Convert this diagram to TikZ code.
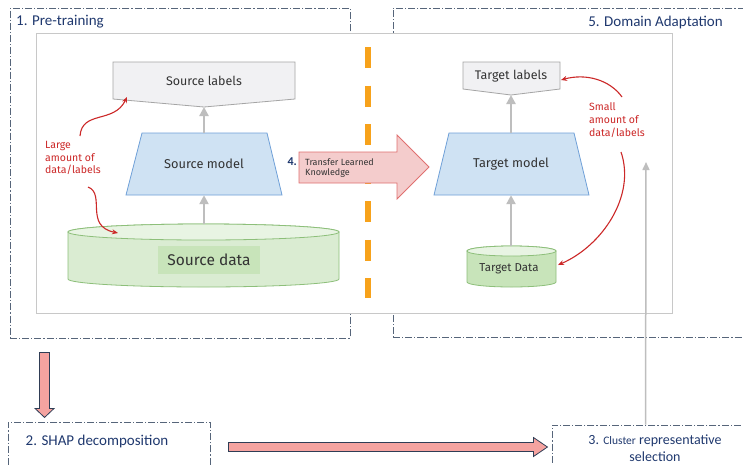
\documentclass[tikz,border=0pt]{standalone}
\usepackage{fontspec}
\newfontfamily\diagfont{Fira Sans}
\newfontfamily\stagefont{Carlito}
\usetikzlibrary{arrows.meta,positioning,calc}
\definecolor{boxline}{RGB}{86,101,122}
\definecolor{boxtext}{RGB}{31,56,110}
\definecolor{lblfill}{RGB}{241,241,243}
\definecolor{lbldraw}{RGB}{165,165,165}
\definecolor{modfill}{RGB}{207,226,243}
\definecolor{moddraw}{RGB}{111,160,216}
\definecolor{datfill}{RGB}{218,236,210}
\definecolor{dattop}{RGB}{232,244,227}
\definecolor{datdraw}{RGB}{141,191,122}
\definecolor{datinner}{RGB}{200,228,186}
\definecolor{notered}{RGB}{204,40,40}
\definecolor{tlfill}{RGB}{244,204,204}
\definecolor{tldraw}{RGB}{224,112,112}
\definecolor{sepor}{RGB}{247,162,27}
\definecolor{stepfill}{RGB}{245,163,160}
\definecolor{stepdraw}{RGB}{47,61,85}
\definecolor{flowgray}{RGB}{190,190,190}
\definecolor{innerframe}{RGB}{200,200,200}
\begin{document}
\begin{tikzpicture}[x=1pt,y=-1pt,
    every node/.style={font=\diagfont,text=black!80,inner sep=0pt},
    stagebox/.style={draw=boxline,line width=0.9pt,dash pattern=on 7pt off 2pt on 1.2pt off 2pt},
    stagelbl/.style={font=\stagefont\fontsize{15}{17}\selectfont,text=boxtext},
    lbltxt/.style={font=\diagfont\fontsize{12.5}{14}\selectfont},
    labshape/.style={draw=lbldraw,fill=lblfill,line width=0.8pt},
    modshape/.style={draw=moddraw,fill=modfill,line width=0.8pt},
    model/.style={minimum width=120pt,minimum height=62pt,font=\diagfont\fontsize{12.8}{14}\selectfont},
    flow/.style={draw=flowgray,line width=2.5pt,-{Triangle[length=9pt,width=9pt]}},
    note/.style={text=notered,align=left,font=\diagfont\fontsize{10.5}{12.8}\selectfont},
    notearr/.style={draw=notered,line width=1.1pt,-{Stealth[length=6pt,width=5pt]}},
    blockarr/.style={fill=stepfill,draw=stepdraw,line width=0.8pt}]
  \useasboundingbox (0,0) rectangle (743,464);
  \clip (0,0) rectangle (743,464);
  % Stage frames
  \node[stagebox,minimum width=340pt,minimum height=330pt] (pre) at (180,173) {};
  \node[stagebox,minimum width=359pt,minimum height=329pt] (adapt) at (572.5,172.5) {};
  \node[stagebox,minimum width=202pt,minimum height=48pt] (shap) at (109,446) {};
  \node[stagebox,minimum width=200pt,minimum height=45pt] (clus) at (652,447.5) {};
  \node[stagelbl,anchor=west] (prelbl) at (16,22) {1. Pre-training};
  \node[stagelbl,anchor=east] (adaptlbl) at (723,22) {5. Domain Adaptation};
  \node[stagelbl] (shaplbl) at (97,441) {2. SHAP decomposition};
  \node[stagelbl,align=center,font=\stagefont\fontsize{14}{16.5}\selectfont] (cluslbl) at (655,448)
    {3. {\fontsize{11.5}{14}\selectfont Cluster} representative\\selection};
  \draw[innerframe,line width=0.8pt,fill=white] (36,33) rectangle (672,313);
  % Separator and transfer
  \draw[sepor,line width=6pt,dash pattern=on 21pt off 17.5pt] (368,47) -- (368,298);
  \draw[tldraw,fill=tlfill,line width=0.8pt] (299,152) -- (397,152) -- (397,135) -- (429,167)
    -- (397,199) -- (397,183) -- (299,183) -- cycle;
  \node[anchor=west,align=left,font=\diagfont\fontsize{9}{10.5}\selectfont] (xfer) at (305,168)
    {Transfer Learned\\Knowledge};
  \node[anchor=east,text=boxtext,font=\stagefont\bfseries\fontsize{12}{13}\selectfont] (xfernum) at (297,162) {4.};
  % Source side
  \draw[labshape] (113,62) -- (295,62) -- (295,99) -- (204,107) -- (113,99) -- cycle;
  \node[lbltxt] (srclab) at (204,81) {Source labels};
  \coordinate (srclab-tip) at (204,107);
  \draw[modshape] (142,133) -- (267,133) -- (282,195) -- (126,195) -- cycle;
  \node[model] (srcmod) at (204,164) {Source model};
  \draw[datdraw,fill=datfill,line width=0.8pt] (68,232) -- (68,279)
    arc[start angle=180,end angle=360,x radius=135.5pt,y radius=8pt] -- (339,232)
    arc[start angle=0,end angle=180,x radius=135.5pt,y radius=8pt] -- cycle;
  \draw[datdraw,fill=dattop,line width=0.8pt] (203.5,232) ellipse[x radius=135.5pt,y radius=8pt];
  \coordinate (srcdat-top) at (204,224);
  \node[fill=datinner,minimum width=102pt,minimum height=28pt,font=\diagfont\fontsize{15.5}{17}\selectfont]
    (srcdat) at (209,260) {Source data};
  \draw[flow] (srcdat-top) -- (srcmod.south);
  \draw[flow] (srcmod.north) -- (srclab-tip);
  % Target side
  \draw[labshape] (463,62) -- (560,62) -- (560,89) -- (511,95) -- (463,89) -- cycle;
  \node[lbltxt] (tgtlab) at (511,76) {Target labels};
  \coordinate (tgtlab-tip) at (511,95);
  \draw[modshape] (449,133) -- (574,133) -- (589,195) -- (434,195) -- cycle;
  \node[model] (tgtmod) at (511,164) {Target model};
  \draw[datdraw,fill=datinner,line width=0.8pt] (467,251) -- (467,282)
    arc[start angle=180,end angle=360,x radius=44.5pt,y radius=5pt] -- (556,251)
    arc[start angle=0,end angle=180,x radius=44.5pt,y radius=5pt] -- cycle;
  \draw[datdraw,fill=dattop,line width=0.8pt] (511.5,251) ellipse[x radius=44.5pt,y radius=5pt];
  \coordinate (tgtdat-top) at (511,246);
  \node[font=\diagfont\fontsize{11.5}{13}\selectfont] (tgtdat) at (509,269) {Target Data};
  \draw[flow] (tgtdat-top) -- (tgtmod.south);
  \draw[flow] (tgtmod.north) -- (tgtlab-tip);
  % Data/label notes
  \node[note,anchor=west] (bignote) at (45,158) {Large\\amount of\\data/labels};
  \node[note,anchor=west] (smallnote) at (589,120) {Small\\amount of\\data/labels};
  \coordinate (big-up) at (80,136);
  \coordinate (big-dn) at (88,187);
  \coordinate (small-up) at (622,97);
  \coordinate (small-dn) at (621,152);
  \draw[notearr] (big-up) .. controls (82,110) and (114,124) .. (127,97);
  \draw[notearr] (big-dn) .. controls (106,194) and (84,226) .. (118,233);
  \draw[notearr] (small-up) .. controls (610,80) and (586,73) .. (561,80);
  \draw[notearr] (small-dn) .. controls (636,196) and (602,246) .. (558,265);
  % Bottom flow
  \draw[blockarr,shift={($(pre.south west)+(35,14)$)}] (-5,0) -- (5,0) -- (5,56) -- (9.5,56)
    -- (0,65) -- (-9.5,56) -- (-5,56) -- cycle;
  \draw[blockarr,shift={($(shap.east)+(18,1)$)}] (0,-4.5) -- (305,-4.5) -- (305,-9.5) -- (319,0)
    -- (305,9.5) -- (305,4.5) -- (0,4.5) -- cycle;
  \coordinate (clus-up) at ($(clus.north west)+(94,0)$);
  \coordinate (adapt-in) at (646,162);
  \draw[draw=flowgray,line width=1.5pt,-{Triangle[length=8pt,width=7pt]}] (clus-up) -- (adapt-in);
\end{tikzpicture}
\end{document}
